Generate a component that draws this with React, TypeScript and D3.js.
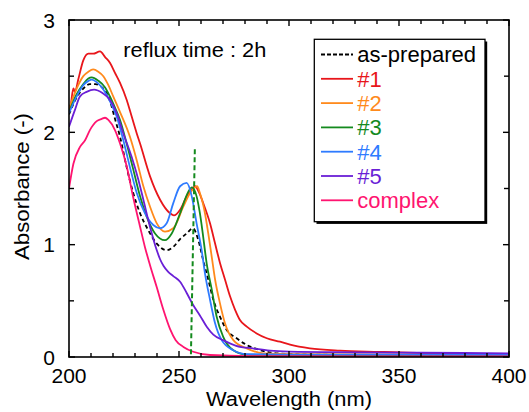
import React from 'react';
import * as d3 from 'd3';

type Pt = [number, number];

const xMajorTicks = [200, 250, 300, 350, 400];
const yMajorTicks = [0, 1, 2, 3];
const xMinorTicks = d3.range(200, 401, 10);
const yMinorTicks = d3.range(0, 3.01, 0.5);

const asPrepared: Pt[] = [
  [200, 2.16], [203.5, 2.31], [206.5, 2.39], [209.5, 2.43], [212, 2.43], [215, 2.40], [217.4, 2.34],
  [218.6, 2.28], [220.9, 2.12], [223.2, 1.96], [226.2, 1.69], [229.2, 1.46], [232.3, 1.28], [236, 1.13],
  [239.9, 1.01], [244.4, 0.95], [247.4, 0.98], [250.5, 1.05], [253.5, 1.10], [256.3, 1.146], [258.8, 1.04],
  [261, 0.86], [263.3, 0.69], [265.6, 0.51], [268.6, 0.36], [271.7, 0.24], [276.2, 0.167], [280.8, 0.107],
  [286.8, 0.062], [294.4, 0.033], [310, 0.022], [340, 0.018], [400, 0.015],
];
const run1: Pt[] = [
  [200, 2.24], [200.5, 2.23], [202, 2.39], [202.7, 2.36], [204.2, 2.47], [206.5, 2.64], [208.8, 2.70],
  [211, 2.70], [214.1, 2.72], [216.4, 2.67], [218.6, 2.62], [220.9, 2.53], [223.2, 2.44], [226.2, 2.29],
  [228.5, 2.14], [230.8, 1.99], [232.3, 1.90], [236.8, 1.61], [241.4, 1.40], [245.9, 1.28], [247.7, 1.26],
  [250.5, 1.31], [253.5, 1.43], [255.8, 1.49], [257.3, 1.52], [259, 1.47], [261, 1.37], [264.1, 1.19],
  [266.4, 1.01], [268.6, 0.84], [270.9, 0.69], [273.2, 0.54], [275.5, 0.42], [277.7, 0.33], [280.8, 0.27],
  [285.3, 0.21], [289.9, 0.167], [295.9, 0.136], [300.5, 0.11], [309.5, 0.077], [323.2, 0.056],
  [335.3, 0.047], [350.5, 0.042], [364.1, 0.033], [390, 0.02], [400, 0.02],
];
const run2: Pt[] = [
  [200, 2.21], [203.5, 2.39], [206.5, 2.50], [208.8, 2.54], [211, 2.56], [213.3, 2.54], [215.6, 2.50],
  [217.9, 2.42], [220.1, 2.32], [223.2, 2.18], [227.7, 1.96], [230.8, 1.75], [233.8, 1.52], [236.8, 1.34],
  [239.9, 1.19], [243.6, 1.116], [247.4, 1.146], [252, 1.34], [255, 1.46], [257.3, 1.51], [258.2, 1.52],
  [259.5, 1.46], [261.8, 1.28], [263.3, 1.10], [264.9, 0.89], [266.4, 0.69], [268.6, 0.48], [270.9, 0.30],
  [274.7, 0.15], [280.8, 0.077], [288.3, 0.033], [305, 0.025], [400, 0.02],
];
const run3: Pt[] = [
  [200, 2.18], [203.5, 2.34], [206.5, 2.43], [208.8, 2.48], [210.3, 2.49], [213.3, 2.46], [216.4, 2.40],
  [218.6, 2.32], [220.9, 2.22], [223.2, 2.11], [226.2, 1.90], [229.2, 1.67], [232.3, 1.43], [235.3, 1.25],
  [239.1, 1.10], [243.6, 1.04], [246.7, 1.10], [250.5, 1.28], [254.2, 1.47], [255.9, 1.51], [258, 1.43],
  [259.5, 1.28], [261, 1.07], [262.6, 0.83], [264.9, 0.60], [267.1, 0.36], [270.1, 0.18], [274.7, 0.06],
  [280.8, 0.02], [300, 0.012], [400, 0.008],
];
const run4: Pt[] = [
  [200, 2.17], [203.5, 2.32], [206.5, 2.42], [209, 2.46], [210.3, 2.47], [213, 2.44], [216, 2.37],
  [218.8, 2.27], [221.7, 2.14], [224.7, 1.93], [227.7, 1.69], [230.8, 1.46], [234.5, 1.28], [238.3, 1.175],
  [241.4, 1.146], [244.4, 1.19], [247.4, 1.37], [250.5, 1.52], [253.5, 1.55], [255.8, 1.43], [258, 1.19],
  [260.3, 0.95], [261.8, 0.745], [264.1, 0.51], [266.4, 0.30], [269.4, 0.15], [274.7, 0.06], [280.8, 0.025],
  [300, 0.022], [400, 0.02],
];
const run5: Pt[] = [
  [200, 2.05], [202.7, 2.20], [205, 2.32], [208, 2.36], [211.4, 2.38], [215.2, 2.35], [218.6, 2.29],
  [221.7, 2.17], [224.7, 1.99], [228.5, 1.78], [231.5, 1.58], [233.8, 1.40], [236.8, 1.16], [239.9, 0.95],
  [241.4, 0.87], [243, 0.81], [245, 0.76], [247.4, 0.72], [250.5, 0.67], [253.5, 0.57], [256.5, 0.46],
  [259.5, 0.37], [262.6, 0.27], [265.6, 0.20], [270, 0.15], [276, 0.10], [284, 0.075], [291.4, 0.056],
  [300, 0.048], [330, 0.042], [360, 0.038], [400, 0.033],
];
const complexData: Pt[] = [
  [200, 1.50], [202, 1.72], [205, 1.87], [207.3, 1.93], [209.5, 2.02], [212.6, 2.10], [214.9, 2.12],
  [216.4, 2.13], [217.9, 2.11], [220.9, 2.02], [223.2, 1.90], [226.2, 1.70], [229.2, 1.42], [232.3, 1.16],
  [234.5, 0.98], [236.8, 0.82], [239.9, 0.62], [242.9, 0.42], [245.9, 0.25], [248.5, 0.15], [252, 0.09],
  [256.5, 0.047], [264.1, 0.018], [282.3, 0.008], [400, 0.005],
];
const guideLine: Pt[] = [[257.2, 1.85], [255.4, 0]];

const seriesNames = ['as-prepared', '#1', '#2', '#3', '#4', '#5', 'complex'];
const seriesData = [asPrepared, run1, run2, run3, run4, run5, complexData];
const seriesColors = ['#000000', '#e8161b', '#ff8a1c', '#148a1e', '#2e7bff', '#6a1fd6', '#ff1470'];

const FONT = '"Liberation Sans", Arial, sans-serif';

export default function App() {
  const W = 529, H = 412;
  const left = 69, right = 509, top = 20, bottom = 357;
  const x = d3.scaleLinear().domain([200, 400]).range([left, right]);
  const y = d3.scaleLinear().domain([0, 3]).range([bottom, top]);
  const line = d3.line<Pt>().x(d => x(d[0])).y(d => y(d[1])).curve(d3.curveMonotoneX);
  const guide = d3.line<Pt>().x(d => x(d[0])).y(d => y(d[1]));

  const legX = 314.3, legY = 39.3, legW = 170.7, legH = 182.4;
  const rowY0 = 54.5, rowStep = 24.3;

  return (
    <svg width={W} height={H} style={{ position: 'absolute', left: 0, top: 0, background: '#fff' }}
      fontFamily={FONT}>
      <defs>
        <clipPath id="plot">
          <rect x={left} y={top} width={right - left} height={bottom - top} />
        </clipPath>
      </defs>
      <rect x={0} y={0} width={W} height={H} fill="#fff" />

      <g clipPath="url(#plot)" fill="none">
        {seriesData.map((d, i) => (
          <path key={i} d={line(d) || ''} stroke={seriesColors[i]} strokeWidth={1.8}
            strokeDasharray={i === 0 ? '4,3' : undefined} strokeLinejoin="round" />
        ))}
        <path d={guide(guideLine) || ''} stroke="#148a1e" strokeWidth={2} strokeDasharray="5,3" />
      </g>

      {/* frame */}
      <rect x={left} y={top} width={right - left} height={bottom - top} fill="none" stroke="#000" strokeWidth={1.6} />

      {/* ticks */}
      {xMinorTicks.map(t => {
        const len = xMajorTicks.includes(t) ? 6 : 4;
        return (
          <g key={'xt' + t} stroke="#000" strokeWidth={1.4}>
            <line x1={x(t)} x2={x(t)} y1={bottom} y2={bottom - len} />
            <line x1={x(t)} x2={x(t)} y1={top} y2={top + len} />
          </g>
        );
      })}
      {yMinorTicks.map(t => {
        const len = yMajorTicks.includes(t) ? 6 : 5;
        return (
          <g key={'yt' + t} stroke="#000" strokeWidth={1.4}>
            <line x1={left} x2={left + len} y1={y(t)} y2={y(t)} />
            <line x1={right} x2={right - len} y1={y(t)} y2={y(t)} />
          </g>
        );
      })}
      {xMajorTicks.map(t => (
        <text key={'xl' + t} x={x(t)} y={383.3} fontSize={21} textAnchor="middle" fill="#000">{t}</text>
      ))}
      {yMajorTicks.map(t => (
        <text key={'yl' + t} x={55} y={y(t) + 7.6} fontSize={21} textAnchor="end" fill="#000">{t}</text>
      ))}

      <text x={(left + right) / 2} y={405.5} fontSize={19.5} textAnchor="middle" textLength={166}
        lengthAdjust="spacingAndGlyphs" fill="#000">Wavelength (nm)</text>
      <text transform={`translate(29,${(top + bottom) / 2 - 2}) rotate(-90)`} fontSize={21} textAnchor="middle"
        textLength={147} lengthAdjust="spacingAndGlyphs" fill="#000">Absorbance (-)</text>

      <text x={123.3} y={56.7} fontSize={21} textLength={143} lengthAdjust="spacingAndGlyphs" fill="#000">reflux time : 2h</text>

      {/* legend */}
      <rect x={legX + 2.2} y={legY + 2.2} width={legW} height={legH} fill="#000" />
      <rect x={legX} y={legY} width={legW} height={legH} fill="#fff" stroke="#000" strokeWidth={1.3} />
      {seriesNames.map((n, i) => {
        const ry = rowY0 + i * rowStep;
        return (
          <g key={'lg' + i}>
            <line x1={321} x2={353} y1={ry} y2={ry} stroke={seriesColors[i]} strokeWidth={1.8}
              strokeDasharray={i === 0 ? '4,2' : undefined} />
            <text x={357.3} y={ry + 7.9} fontSize={22} fill={seriesColors[i]}>{n}</text>
          </g>
        );
      })}
    </svg>
  );
}
